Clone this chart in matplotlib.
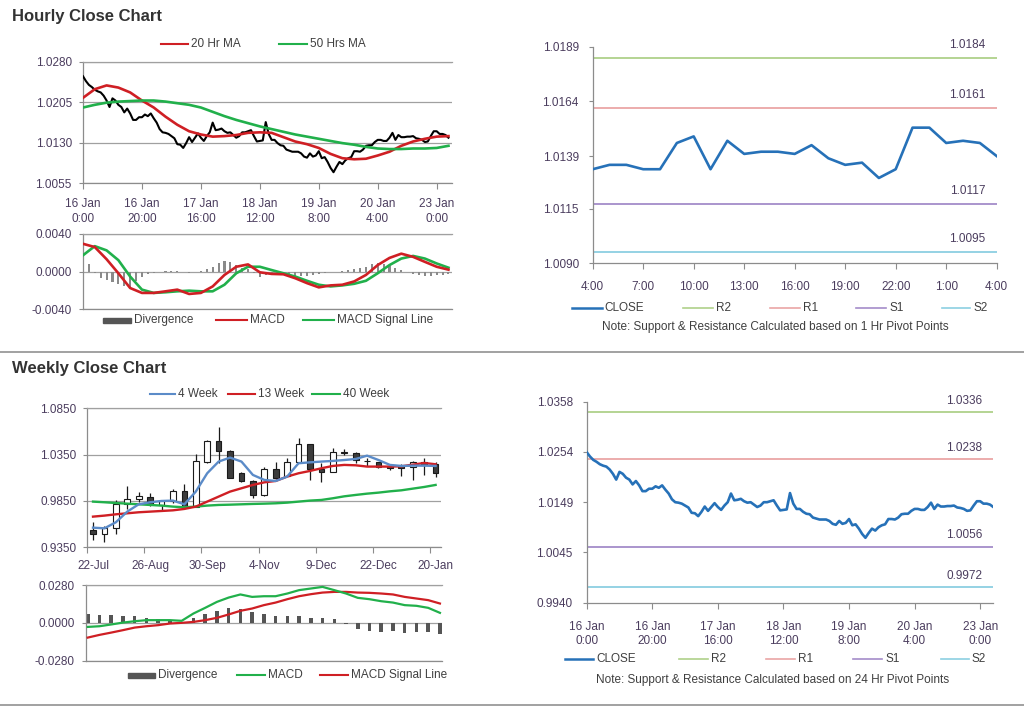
import numpy as np
import matplotlib
matplotlib.use('Agg')
import matplotlib.pyplot as plt
from matplotlib.lines import Line2D
from matplotlib.patches import Rectangle

plt.rcParams['font.family'] = ['Liberation Sans', 'DejaVu Sans']

# ---------------- DATA ----------------
# Hourly close, 16 Jan 0:00 .. 23 Jan 4:00 (weekend skipped)
hourly_close = [
    1.0253, 1.0244, 1.0237, 1.0233, 1.0228, 1.0225, 1.0223, 1.0217, 1.0208, 1.0196,
    1.0212, 1.0208, 1.0200, 1.0196, 1.0186, 1.0193, 1.0184, 1.0172, 1.0172, 1.0177,
    1.0177, 1.0182, 1.0179, 1.0184, 1.0175, 1.0167, 1.0155, 1.0149, 1.0148, 1.0146,
    1.0142, 1.0138, 1.0127, 1.0126, 1.0120, 1.0129, 1.0140, 1.0131, 1.0139, 1.0147,
    1.0139, 1.0133, 1.0142, 1.0149, 1.0167, 1.0153, 1.0154, 1.0156, 1.0151, 1.0148,
    1.0149, 1.0144, 1.0139, 1.0142, 1.0149, 1.0149, 1.0151, 1.0153, 1.0142, 1.0132,
    1.0133, 1.0134, 1.0168, 1.0146, 1.0135, 1.0135, 1.0129, 1.0125, 1.0124, 1.0117,
    1.0115, 1.0113, 1.0113, 1.0113, 1.0110, 1.0104, 1.0102, 1.0110, 1.0104, 1.0106,
    1.0114, 1.0101, 1.0103, 1.0094, 1.0083, 1.0075, 1.0085, 1.0094, 1.0090, 1.0097,
    1.0101, 1.0103, 1.0114, 1.0114, 1.0113, 1.0117, 1.0124, 1.0125, 1.0125, 1.0131,
    1.0135, 1.0135, 1.0133, 1.0133, 1.0139, 1.0148, 1.0135, 1.0144, 1.0140, 1.0140,
    1.0141, 1.0141, 1.0142, 1.0138, 1.0137, 1.0135, 1.0131, 1.0132, 1.0142, 1.0151,
    1.0151, 1.0146, 1.0146, 1.0144, 1.0139,
]
hourly_hours = np.arange(len(hourly_close))
hourly_tick_pos = [0, 20, 40, 60, 80, 100, 120]
hourly_tick_labels = ['16 Jan\n0:00', '16 Jan\n20:00', '17 Jan\n16:00', '18 Jan\n12:00',
                      '19 Jan\n8:00', '20 Jan\n4:00', '23 Jan\n0:00']

# moving averages read every 4 hours
ma_hours = np.arange(0, 125, 4)
ma20_hr = [1.0213, 1.0229, 1.0236, 1.0232, 1.0223, 1.0208, 1.0195, 1.0178, 1.0163, 1.0151,
           1.0145, 1.0141, 1.0142, 1.0144, 1.0148, 1.0149, 1.0148, 1.0140, 1.0132, 1.0127,
           1.0120, 1.0109, 1.0101, 1.0099, 1.0100, 1.0106, 1.0113, 1.0124, 1.0132, 1.0137,
           1.0141, 1.0142]
ma50_hr = [1.0195, 1.0200, 1.0204, 1.0206, 1.0207, 1.0208, 1.0208, 1.0206, 1.0203, 1.0200,
           1.0195, 1.0187, 1.0179, 1.0172, 1.0166, 1.0160, 1.0155, 1.0150, 1.0145, 1.0141,
           1.0137, 1.0133, 1.0129, 1.0126, 1.0122, 1.0119, 1.0118, 1.0118, 1.0119, 1.0119,
           1.0120, 1.0124]
macd_hr = [0.00296, 0.00261, 0.00132, -0.00017, -0.00174, -0.00226, -0.00226, -0.00209,
           -0.00191, -0.00237, -0.00226, -0.00157, -0.00035, 0.00052, 0.00077, -0.00007,
           -0.00024, -0.00028, -0.00070, -0.00122, -0.00167, -0.00146, -0.00139, -0.00104,
           -0.00035, 0.00070, 0.00146, 0.00191, 0.00157, 0.00104, 0.00052, 0.00021]
signal_hr = [0.00174, 0.00271, 0.00226, 0.00122, -0.00052, -0.00191, -0.00226, -0.00219,
             -0.00209, -0.00202, -0.00209, -0.00209, -0.00139, -0.00017, 0.00052, 0.00052,
             0.00017, -0.00017, -0.00052, -0.00097, -0.00139, -0.00157, -0.00146, -0.00129,
             -0.00097, -0.00017, 0.00070, 0.00139, 0.00167, 0.00139, 0.00087, 0.00042]
div_hours = np.arange(0, 125, 2)
div_hr = [0.00122, 0.00077, -0.00017, -0.00063, -0.00087, -0.00111, -0.00132, -0.00157,
          -0.00167, -0.00104, -0.00052, -0.00024, -0.00010, -0.00003, 0.00007, 0.00010,
          0.00007, -0.00003, -0.00010, -0.00007, 0.00007, 0.00024, 0.00052, 0.00094,
          0.00115, 0.00104, 0.00070, 0.00042, 0.00028, -0.00017, -0.00052, -0.00035,
          -0.00024, -0.00017, -0.00021, -0.00028, -0.00042, -0.00045, -0.00042, -0.00035,
          -0.00021, -0.00010, -0.00003, 0.00000, 0.00007, 0.00017, 0.00028, 0.00035,
          0.00052, 0.00077, 0.00090, 0.00080, 0.00063, 0.00042, 0.00021, 0.00000,
          -0.00021, -0.00035, -0.00045, -0.00045, -0.00038, -0.00035, -0.00028]

# 1 hour pivot chart (last 24 hours)
pivot1_labels = ['4:00', '7:00', '10:00', '13:00', '16:00', '19:00', '22:00', '1:00', '4:00']
pivot1_close = [1.0133, 1.0135, 1.0135, 1.0133, 1.0133, 1.0145, 1.0148, 1.0133, 1.0146,
                1.0140, 1.0141, 1.0141, 1.0140, 1.0144, 1.0138, 1.0135, 1.0136, 1.0129,
                1.0133, 1.0152, 1.0152, 1.0145, 1.0146, 1.0145, 1.0139]
pivot1_levels = {'R2': 1.0184, 'R1': 1.0161, 'S1': 1.0117, 'S2': 1.0095}
pivot1_yticks = [1.0090, 1.0115, 1.0139, 1.0164, 1.0189]

# 24 hour pivot chart
pivot24_levels = {'R2': 1.0336, 'R1': 1.0238, 'S1': 1.0056, 'S2': 0.9972}
pivot24_yticks = [0.9940, 1.0045, 1.0149, 1.0254, 1.0358]

# Weekly candles
week_labels = ['22-Jul', '26-Aug', '30-Sep', '4-Nov', '9-Dec', '22-Dec', '20-Jan']
week_open = [0.9537, 0.9490, 0.9562, 0.9814, 0.9872, 0.9897, 0.9807, 0.9850, 0.9958, 0.9789,
             1.0275, 1.0498, 1.0393, 1.0156, 1.0066, 0.9915, 1.0195, 1.0123, 1.0267, 1.0462,
             1.0195, 1.0167, 1.0382, 1.0372, 1.0285, 1.0267, 1.0231, 1.0228, 1.0213, 1.0267,
             1.0246]
week_high = [0.9627, 0.9584, 0.9861, 1.0016, 0.9944, 0.9933, 0.9857, 0.9980, 1.0030, 1.0354,
             1.0508, 1.0652, 1.0400, 1.0165, 1.0077, 1.0221, 1.0267, 1.0310, 1.0526, 1.0469,
             1.0257, 1.0418, 1.0411, 1.0382, 1.0318, 1.0275, 1.0239, 1.0246, 1.0282, 1.0310,
             1.0275]
week_low = [0.9429, 0.9411, 0.9490, 0.9764, 0.9843, 0.9800, 0.9742, 0.9825, 0.9771, 0.9782,
            1.0257, 1.0257, 1.0095, 1.0058, 0.9886, 0.9908, 1.0087, 1.0116, 1.0260, 1.0077,
            1.0051, 1.0159, 1.0346, 1.0257, 1.0231, 1.0210, 1.0181, 1.0123, 1.0077, 1.0131,
            1.0113]
week_close = [0.9490, 0.9555, 0.9814, 0.9872, 0.9908, 0.9814, 0.9850, 0.9958, 0.9789, 1.0282,
              1.0498, 1.0393, 1.0102, 1.0066, 0.9915, 1.0195, 1.0095, 1.0275, 1.0462, 1.0195,
              1.0167, 1.0375, 1.0372, 1.0292, 1.0278, 1.0221, 1.0203, 1.0206, 1.0267, 1.0239,
              1.0149]
ma4_wk = [0.9562, 0.9555, 0.9620, 0.9735, 0.9814, 0.9836, 0.9850, 0.9854, 0.9814, 0.9951,
          1.0149, 1.0275, 1.0318, 1.0275, 1.0131, 1.0077, 1.0066, 1.0113, 1.0257, 1.0267,
          1.0275, 1.0282, 1.0292, 1.0303, 1.0339, 1.0292, 1.0239, 1.0228, 1.0231, 1.0231,
          1.0228]
ma13_wk = [0.9681, 0.9692, 0.9706, 0.9717, 0.9728, 0.9735, 0.9742, 0.9749, 0.9764, 0.9789,
           0.9843, 0.9897, 0.9951, 0.9987, 1.0023, 1.0051, 1.0066, 1.0113, 1.0149, 1.0174,
           1.0203, 1.0228, 1.0239, 1.0235, 1.0221, 1.0221, 1.0221, 1.0224, 1.0242, 1.0260,
           1.0246]
ma40_wk = [0.9843, 0.9836, 0.9828, 0.9821, 0.9814, 0.9807, 0.9800, 0.9789, 0.9782, 0.9789,
           0.9800, 0.9807, 0.9810, 0.9814, 0.9818, 0.9821, 0.9825, 0.9832, 0.9843, 0.9854,
           0.9861, 0.9879, 0.9900, 0.9915, 0.9929, 0.9940, 0.9954, 0.9965, 0.9983, 1.0001,
           1.0023]
macd_wk = [-0.0030, -0.0025, -0.0012, 0.0002, 0.0012, 0.0020, 0.0020, 0.0020, 0.0015, 0.0069,
           0.0111, 0.0155, 0.0187, 0.0210, 0.0192, 0.0197, 0.0197, 0.0217, 0.0242, 0.0254,
           0.0266, 0.0242, 0.0217, 0.0185, 0.0175, 0.0160, 0.0150, 0.0131, 0.0126, 0.0111,
           0.0074]
signal_wk = [-0.0109, -0.0089, -0.0072, -0.0054, -0.0035, -0.0025, -0.0017, -0.0005, 0.0000,
             0.0007, 0.0020, 0.0037, 0.0062, 0.0089, 0.0106, 0.0131, 0.0150, 0.0175, 0.0197,
             0.0212, 0.0224, 0.0229, 0.0229, 0.0224, 0.0222, 0.0217, 0.0210, 0.0192, 0.0180,
             0.0168, 0.0143]
div_wk = [0.0064, 0.0057, 0.0057, 0.0054, 0.0049, 0.0039, 0.0025, 0.0020, 0.0007, 0.0037,
          0.0062, 0.0089, 0.0109, 0.0106, 0.0081, 0.0064, 0.0049, 0.0049, 0.0049, 0.0039,
          0.0039, 0.0025, -0.0010, -0.0049, -0.0059, -0.0067, -0.0062, -0.0072, -0.0067,
          -0.0067, -0.0079]

# ---------------- STYLE ----------------
W, H = 1024, 706
fig = plt.figure(figsize=(W / 100, H / 100), dpi=100)
fig.patch.set_facecolor('white')

TICK_C = '#4b3d5e'
TEXT_C = '#3f3f3f'
AX_C = '#8c8c8c'
GRID_C = '#a0a0a0'
RED = '#cf1f24'
GREEN = '#21b04b'
BLUE = '#2671b8'
FS = 8.5
LFS = 8.5


def rect(l, t, r, b):
    return [l / W, 1 - b / H, (r - l) / W, (b - t) / H]


def base_style(ax, top_grid=False):
    ax.spines['right'].set_visible(False)
    ax.spines['top'].set_visible(top_grid)
    for s in ['left', 'bottom', 'top']:
        ax.spines[s].set_color(AX_C if s != 'top' else GRID_C)
        ax.spines[s].set_linewidth(0.9)
    ax.tick_params(axis='both', colors=AX_C, labelcolor=TICK_C, labelsize=FS,
                   length=3, width=0.8)
    ax.tick_params(axis='y', pad=5)


def fx(x):
    return x / W


def fy(y):
    return 1 - y / H


def legend_line(x0, x1, y, color, label, lw=1.5):
    fig.add_artist(Line2D([fx(x0), fx(x1)], [fy(y), fy(y)], color=color, lw=lw,
                          transform=fig.transFigure))
    fig.text(fx(x1 + 3), fy(y), label, fontsize=LFS, color=TEXT_C, va='center', ha='left')


def legend_patch(x0, x1, y, color, label):
    fig.add_artist(Rectangle((fx(x0), fy(y + 2.5)), fx(x1 - x0), 5 / H, color=color,
                             transform=fig.transFigure))
    fig.text(fx(x1 + 3), fy(y), label, fontsize=LFS, color=TEXT_C, va='center', ha='left')


# titles & separators
fig.text(fx(12), fy(16), 'Hourly Close Chart', fontsize=12, fontweight='bold',
         color='#333333', va='center', ha='left')
fig.text(fx(12), fy(369), 'Weekly Close Chart', fontsize=12, fontweight='bold',
         color='#333333', va='center', ha='left')
for yy in (352, 704.5):
    fig.add_artist(Line2D([0, 1], [fy(yy), fy(yy)], color='#9a9a9a', lw=1.3,
                          transform=fig.transFigure))

# ---------- Hourly main ----------
ax1 = fig.add_axes(rect(83, 61.7, 452, 183))
base_style(ax1, top_grid=True)
ax1.set_xlim(0, 125.2)
ax1.set_ylim(1.0055, 1.0280)
ax1.set_yticks([1.0055, 1.0130, 1.0205, 1.0280])
ax1.set_yticklabels(['1.0055', '1.0130', '1.0205', '1.0280'])
ax1.yaxis.grid(True, color=GRID_C, lw=0.9)
ax1.set_axisbelow(True)
ax1.set_xticks(hourly_tick_pos)
ax1.set_xticklabels(hourly_tick_labels, linespacing=1.3)
ax1.tick_params(axis='x', length=4, pad=7)
ax1.plot(hourly_hours, hourly_close, color='black', lw=1.5, zorder=3)
ax1.plot(ma_hours, ma20_hr, color=RED, lw=1.9, zorder=4)
ax1.plot(ma_hours, ma50_hr, color=GREEN, lw=1.9, zorder=4)
legend_line(161, 188, 44, RED, '20 Hr MA')
legend_line(279, 307, 44, GREEN, '50 Hrs MA')

# ---------- Hourly MACD ----------
ax2 = fig.add_axes(rect(83, 234, 452, 309.3))
base_style(ax2, top_grid=True)
ax2.set_xlim(0, 125.2)
ax2.set_ylim(-0.004, 0.004)
ax2.set_yticks([-0.004, 0.0, 0.004])
ax2.set_yticklabels(['-0.0040', '0.0000', '0.0040'])
ax2.yaxis.grid(True, color=GRID_C, lw=0.9)
ax2.set_axisbelow(True)
ax2.set_xticks([])
ax2.bar(div_hours, div_hr, width=0.7, color='#8a8a8a', zorder=2)
ax2.plot(ma_hours, macd_hr, color=RED, lw=1.9, zorder=4)
ax2.plot(ma_hours, signal_hr, color=GREEN, lw=1.9, zorder=3)
legend_patch(103, 131, 320, '#555555', 'Divergence')
legend_line(216, 247, 320, RED, 'MACD')
legend_line(303, 334, 320, GREEN, 'MACD Signal Line')

# ---------- 1 Hr pivot chart ----------
LEV_C = {'R2': '#afd18a', 'R1': '#eaa6a6', 'S1': '#a48cc9', 'S2': '#8ccfe2'}
ax3 = fig.add_axes(rect(592.7, 46.7, 996.7, 263.3))
base_style(ax3)
ax3.set_xlim(0, 24)
ax3.set_ylim(1.0090, 1.0189)
ax3.set_yticks(pivot1_yticks)
ax3.set_yticklabels([f'{v:.4f}' for v in pivot1_yticks])
ax3.tick_params(axis='y', pad=7)
ax3.set_xticks(np.arange(0, 25, 3))
ax3.set_xticklabels(pivot1_labels)
ax3.tick_params(axis='x', length=4, pad=9)
for k, v in pivot1_levels.items():
    ax3.axhline(v, color=LEV_C[k], lw=1.3, zorder=2)
    ax3.annotate(f'{v:.4f}', xy=(24, v), xytext=(-8, 5), textcoords='offset points',
                 ha='right', va='bottom', fontsize=FS, color=TICK_C)
ax3.plot(np.arange(len(pivot1_close)), pivot1_close, color=BLUE, lw=1.9, zorder=3)
legend_line(571.7, 601.7, 308, BLUE, 'CLOSE', lw=1.8)
legend_line(683, 713, 308, LEV_C['R2'], 'R2', lw=1.2)
legend_line(770, 800, 308, LEV_C['R1'], 'R1', lw=1.2)
legend_line(856, 886, 308, LEV_C['S1'], 'S1', lw=1.2)
legend_line(941.7, 970, 308, LEV_C['S2'], 'S2', lw=1.2)
fig.text(fx(775), fy(327.3), 'Note: Support & Resistance Calculated based on 1 Hr Pivot Points',
         fontsize=LFS, color=TEXT_C, ha='center', va='center')

# ---------- Weekly candles ----------
ax4 = fig.add_axes(rect(87.3, 408.3, 441.3, 547.3))
base_style(ax4, top_grid=True)
ax4.set_xlim(-0.5, 30.5)
ax4.set_ylim(0.935, 1.085)
ax4.set_yticks([0.935, 0.985, 1.035, 1.085])
ax4.set_yticklabels(['0.9350', '0.9850', '1.0350', '1.0850'])
ax4.yaxis.grid(True, color=GRID_C, lw=0.9)
ax4.set_axisbelow(True)
wk = np.arange(len(week_close))
ax4.set_xticks(wk[::5])
ax4.set_xticklabels(week_labels)
ax4.set_xticks(wk[::5] - 0.5, minor=True)
ax4.tick_params(axis='x', which='major', length=0, pad=9)
ax4.tick_params(axis='x', which='minor', length=4, color=AX_C, width=0.8)
wo, wc = np.array(week_open), np.array(week_close)
ax4.vlines(wk, week_low, week_high, color='#1a1a1a', lw=0.9, zorder=2)
bodies_b = np.minimum(wo, wc)
bodies_h = np.maximum(np.abs(wc - wo), 0.0003)
faces = ['#3c3c3c' if c < o else 'white' for o, c in zip(wo, wc)]
ax4.bar(wk, bodies_h, bottom=bodies_b, width=0.5, color=faces, edgecolor='#1a1a1a',
        lw=0.8, zorder=3)
ax4.plot(wk, ma40_wk, color=GREEN, lw=1.7, zorder=4)
ax4.plot(wk, ma13_wk, color=RED, lw=1.7, zorder=4)
ax4.plot(wk, ma4_wk, color='#5b8bc8', lw=1.7, zorder=5)
legend_line(150, 175, 394.3, '#5b8bc8', '4 Week')
legend_line(228, 255, 394.3, RED, '13 Week')
legend_line(312, 340, 394.3, GREEN, '40 Week')

# ---------- Weekly MACD ----------
ax5 = fig.add_axes(rect(86, 585, 441.7, 660.7))
base_style(ax5, top_grid=True)
ax5.set_xlim(-0.15, 30.15)
ax5.set_ylim(-0.028, 0.028)
ax5.set_yticks([-0.028, 0.0, 0.028])
ax5.set_yticklabels(['-0.0280', '0.0000', '0.0280'])
ax5.yaxis.grid(True, color=GRID_C, lw=0.9)
ax5.set_axisbelow(True)
ax5.set_xticks([])
ax5.bar(wk, div_wk, width=0.3, color='#555555', zorder=2)
ax5.plot(wk, signal_wk, color=RED, lw=1.6, zorder=3)
ax5.plot(wk, macd_wk, color=GREEN, lw=1.6, zorder=4)
legend_patch(128, 155, 675, '#555555', 'Divergence')
legend_line(237, 265, 675, GREEN, 'MACD')
legend_line(320, 348, 675, RED, 'MACD Signal Line')

# ---------- 24 Hr pivot chart ----------
ax6 = fig.add_axes(rect(586.7, 401.7, 993.3, 602.7))
base_style(ax6)
ax6.set_xlim(0, 124)
ax6.set_ylim(0.9940, 1.0358)
ax6.set_yticks(pivot24_yticks)
ax6.set_yticklabels([f'{v:.4f}' for v in pivot24_yticks])
ax6.tick_params(axis='y', pad=7)
ax6.set_xticks(hourly_tick_pos)
ax6.set_xticklabels(hourly_tick_labels, linespacing=1.3)
ax6.tick_params(axis='x', length=4, pad=9)
for k, v in pivot24_levels.items():
    ax6.axhline(v, color=LEV_C[k], lw=1.3, zorder=2)
    ax6.annotate(f'{v:.4f}', xy=(124, v), xytext=(-8, 4), textcoords='offset points',
                 ha='right', va='bottom', fontsize=FS, color=TICK_C)
ax6.plot(hourly_hours, hourly_close, color=BLUE, lw=1.9, zorder=3)
legend_line(565, 593, 659.3, BLUE, 'CLOSE', lw=1.8)
legend_line(679, 708, 659.3, LEV_C['R2'], 'R2', lw=1.2)
legend_line(766, 795, 659.3, LEV_C['R1'], 'R1', lw=1.2)
legend_line(853, 882, 659.3, LEV_C['S1'], 'S1', lw=1.2)
legend_line(941, 969, 659.3, LEV_C['S2'], 'S2', lw=1.2)
fig.text(fx(773), fy(680), 'Note: Support & Resistance Calculated based on 24 Hr Pivot Points',
         fontsize=LFS, color=TEXT_C, ha='center', va='center')

fig.savefig('out.png', dpi=100, facecolor='white')
